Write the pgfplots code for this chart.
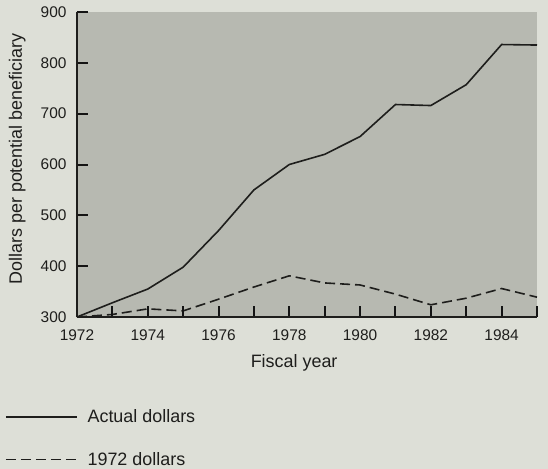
\documentclass[border=0pt]{standalone}
\usepackage{fontspec}
\setmainfont{Liberation Sans}
\usepackage{pgfplots}
\pgfplotsset{compat=1.18}
\definecolor{pagebg}{RGB}{221,223,215}
\definecolor{plotgray}{RGB}{183,185,177}
\definecolor{inkc}{RGB}{30,30,28}
\definecolor{tickc}{RGB}{20,20,20}
\pgfplotstableread{
year actual real
1972 300 300
1973 328 305
1974 355 316
1975 398 312
1976 470 335
1977 550 359
1978 600 381
1979 620 367
1980 655 363
1981 718 345
1982 716 324
1983 757 337
1984 836 356
1985 835 339
}\datatab
\begin{document}
\begin{tikzpicture}
\fill[pagebg] (-77bp,-152bp) rectangle (471bp,317bp);
\begin{axis}[
  name=ax, at={(0,0)}, anchor=south west,
  scale only axis, width=460bp, height=305bp,
  xmin=1972, xmax=1985, ymin=300, ymax=900,
  axis x line*=bottom, axis y line*=left,
  axis on top,
  axis line style={-, line width=1.4bp, inkc},
  axis background/.style={fill=plotgray},
  xtick={1972,1974,...,1984},
  minor xtick={1973,1975,...,1985},
  ytick={300,400,...,900},
  tick align=inside,
  major tick length=11bp, minor tick length=11bp,
  tick style={line width=2bp, tickc},
  minor tick style={line width=2bp, tickc},
  x tick label style={/pgf/number format/1000 sep={}, yshift=-9bp},
  y tick label style={xshift=-7bp},
  /pgf/number format/assume math mode=true,
  tick label style={font=\fontsize{15.5}{18}\selectfont, text=inkc},
  label style={font=\fontsize{18}{21}\selectfont, text=inkc},
  xlabel={Fiscal year},
  xlabel style={at={(axis description cs:0.472,-0.15)}, anchor=center},
  ylabel={Dollars per potential beneficiary},
  ylabel style={at={(axis description cs:-0.130,0.518)}, anchor=center},
  legend style={draw=none, fill=none, at={(axis description cs:-0.157,-0.30)}, anchor=north west,
    inner sep=0pt, row sep=26bp, column sep=9bp,
    nodes={inner sep=1bp, anchor=west, font=\fontsize{18}{21}\selectfont, text=inkc}},
  legend cell align=left,
  legend image code/.code={\draw[#1] (0bp,0bp) -- (71bp,0bp);},
]
\addplot[inkc, line width=1.6bp] table[x=year, y=actual] {\datatab};
\addlegendentry{Actual dollars}
\addplot[inkc, line width=1.6bp, dash pattern=on 10bp off 5bp] table[x=year, y=real] {\datatab};
\addlegendentry{1972 dollars}
\end{axis}
\path[use as bounding box] (-77bp,-152bp) rectangle (471bp,317bp);
\end{tikzpicture}
\end{document}
